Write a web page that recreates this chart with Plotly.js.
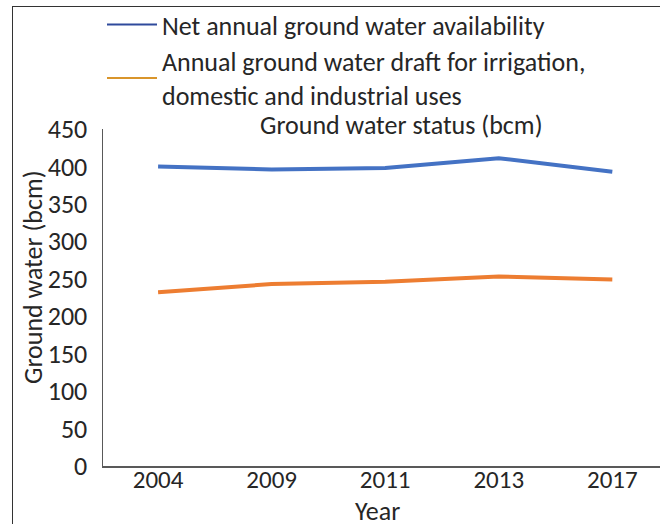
<!DOCTYPE html>
<html>
<head>
<meta charset="utf-8">
<script src="https://cdn.plot.ly/plotly-3.0.1.min.js"></script>
<style>
html,body{margin:0;padding:0;background:#fff;}
#wrap{position:relative;width:660px;height:524px;overflow:hidden;}
#chart{width:660px;height:524px;}
#frame{position:absolute;left:12px;top:6px;width:700px;height:600px;border-left:1.5px solid #333;border-top:1.5px solid #333;pointer-events:none;}
</style>
</head>
<body>
<div id="wrap"><div id="chart"></div><div id="frame"></div></div>
<script>
const years = ["2004", "2009", "2011", "2013", "2017"];
const availability = [400, 396, 398, 411, 393];
const draft = [232, 243, 246, 253, 249];
const seriesNames = ["Net annual ground water availability",
  "Annual ground water draft for irrigation,<br>domestic and industrial uses"];
const yTicks = [0, 50, 100, 150, 200, 250, 300, 350, 400, 450];
const chartTitle = "Ground water status (bcm)";
const xTitle = "Year";
const yTitle = "Ground water (bcm)";

const FONT = "Carlito, Calibri, 'Liberation Sans Narrow', 'Liberation Sans', sans-serif";
const TXT = "#262626";
const PW = 557, PH = 337;

const data = [
  {x: years, y: availability, type: "scatter", mode: "lines", showlegend: false,
   line: {color: "#4472C4", width: 4}},
  {x: years, y: draft, type: "scatter", mode: "lines", showlegend: false,
   line: {color: "#ED7D31", width: 4}},
  {x: [null], y: [null], type: "scatter", mode: "lines", name: seriesNames[0],
   line: {color: "#2F4A9C", width: 2}},
  {x: [null], y: [null], type: "scatter", mode: "lines", name: seriesNames[1],
   line: {color: "#D9952B", width: 2}}
];

const layout = {
  width: 660, height: 524,
  margin: {l: 103, r: 0, t: 129, b: 58, pad: 0, autoexpand: false},
  paper_bgcolor: "#fff", plot_bgcolor: "#fff",
  font: {family: FONT, color: TXT, size: 26},
  showlegend: true,
  legend: {x: (102-103)/PW, y: 1 + (129-1)/PH,
           xanchor: "left", yanchor: "top", bgcolor: "rgba(0,0,0,0)",
           font: {family: FONT, size: 26, color: TXT}, tracegroupgap: 0, itemwidth: 50},
  annotations: [
    {text: chartTitle, xref: "paper", yref: "paper",
     x: (401-103)/PW, y: 1, yanchor: "middle", xanchor: "center", yshift: 4,
     showarrow: false, font: {family: FONT, size: 26, color: TXT}},
    {text: yTitle, xref: "paper", yref: "paper", textangle: -90,
     x: (33-103)/PW, y: (466-277)/PH, xanchor: "center", yanchor: "middle",
     showarrow: false, font: {family: FONT, size: 26, color: TXT}},
    {text: xTitle, xref: "paper", yref: "paper",
     x: (377.5-103)/PW, y: (466-511)/PH, xanchor: "center", yanchor: "middle",
     showarrow: false, font: {family: FONT, size: 26, color: TXT}}
  ],
  xaxis: {type: "category", range: [-0.485, 4.42], showline: true, linecolor: "#595959", linewidth: 1.5,
          showgrid: false, zeroline: false, ticks: "", tickfont: {size: 25}, tickangle: 0,
          ticklabelstandoff: -10},
  yaxis: {range: [0, 450], tickvals: yTicks, showline: true, linecolor: "#595959", linewidth: 1.5,
          showgrid: false, zeroline: false, ticks: "", tickfont: {size: 26}, ticklabelstandoff: 9}
};

Plotly.newPlot("chart", data, layout, {displayModeBar: false, staticPlot: true});
</script>
</body>
</html>
